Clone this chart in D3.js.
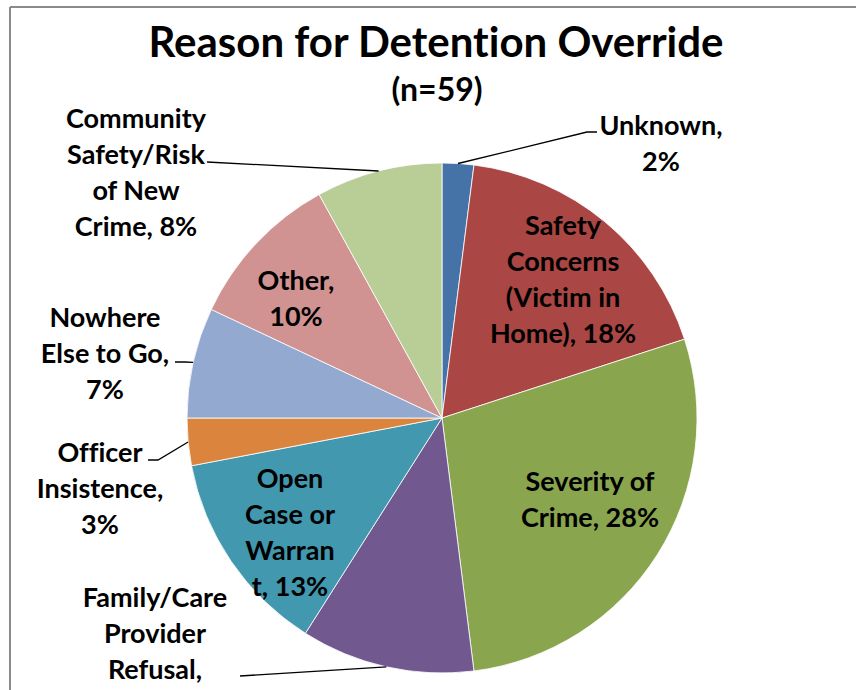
<!DOCTYPE html>
<html>
<head>
<meta charset="utf-8">
<script src="https://cdn.jsdelivr.net/npm/d3@7"></script>
<style>
  html, body { margin: 0; padding: 0; background: #fff; overflow: hidden; }
  svg { display: block; }
  text {
    font-family: "Lato", "Open Sans", sans-serif;
    font-weight: 700;
    fill: #000;
    font-variant-ligatures: none;
    font-feature-settings: "liga" 0, "clig" 0;
  }
</style>
</head>
<body>
<svg id="chart" width="856" height="690"></svg>
<script>
// Reasons for a detention override, share of cases (n=59)
const categories = [
  "Unknown",
  "Safety Concerns (Victim in Home)",
  "Severity of Crime",
  "Family/Care Provider Refusal",
  "Open Case or Warrant",
  "Officer Insistence",
  "Nowhere Else to Go",
  "Other",
  "Community Safety/Risk of New Crime"
];
const percents = [2, 18, 28, 11, 13, 3, 7, 10, 8];
const colors = ["#4572A7", "#AA4643", "#89A54E", "#71588F", "#4198AF",
                "#DB843D", "#93A9CF", "#D19392", "#B9CD96"];
// Wrapped label lines; {p} is replaced by the slice's percentage
const labelLines = [
  ["Unknown,", "{p}"],
  ["Safety", "Concerns", "(Victim in", "Home), {p}"],
  ["Severity of", "Crime, {p}"],
  ["Family/Care", "Provider", "Refusal,", "{p}"],
  ["Open", "Case or", "Warran", "t, {p}"],
  ["Officer", "Insistence,", "{p}"],
  ["Nowhere", "Else to Go,", "{p}"],
  ["Other,", "{p}"],
  ["Community", "Safety/Risk", "of New", "Crime, {p}"]
];
const title = "Reason for Detention Override";
const subtitle = "(n=59)";

// Layout
const W = 856, H = 690;
const cx = 442, cy = 418, R = 255;
const lineH = 36;
// Label blocks: centre of the first line; outside labels also get a
// leader line running from the slice rim through the listed elbow points.
const labelLayout = [
  { x: 661, y: 126, elbow: [[587, 132], [597, 132]] },
  { x: 563, y: 226 },
  { x: 590, y: 482 },
  { x: 155, y: 598, elbow: [[240, 676]] },
  { x: 290, y: 479 },
  { x: 100, y: 453, elbow: [[158, 460], [148, 460]] },
  { x: 105, y: 318, elbow: [[185, 362], [175, 362]] },
  { x: 296, y: 281 },
  { x: 136, y: 119, elbow: [[207, 162]] }
];

const svg = d3.select("#chart");

// Frame edges
svg.append("line").attr("x1", 10).attr("x2", W).attr("y1", 7).attr("y2", 7)
  .attr("stroke", "#8a8a8a").attr("stroke-width", 2);
svg.append("line").attr("x1", 10).attr("x2", 10).attr("y1", 7).attr("y2", H)
  .attr("stroke", "#8a8a8a").attr("stroke-width", 2);

// Titles
svg.append("text").attr("x", 436).attr("y", 57).attr("text-anchor", "middle")
  .style("font-size", "42px").text(title);
svg.append("text").attr("x", 437).attr("y", 101).attr("text-anchor", "middle")
  .style("font-size", "32px").text(subtitle);

const data = categories.map((c, i) => ({ name: c, value: percents[i], color: colors[i], i }));

const pie = d3.pie().value(d => d.value).sort(null);
const arcs = pie(data);
const arc = d3.arc().innerRadius(0).outerRadius(R);

const g = svg.append("g").attr("transform", `translate(${cx},${cy})`);

g.selectAll("path.slice").data(arcs).join("path")
  .attr("class", "slice")
  .attr("d", arc)
  .attr("fill", d => d.data.color)
  .attr("stroke", "#ffffff")
  .attr("stroke-width", 0.8);

const polar = (r, a) => [r * Math.sin(a), -r * Math.cos(a)];

arcs.forEach((a, i) => {
  const lay = labelLayout[i];
  const mid = (a.startAngle + a.endAngle) / 2;
  const lines = labelLines[i].map(s => s.replace("{p}", percents[i] + "%"));
  if (lay.elbow) {
    const edge = polar(R, mid);
    const pts = [[cx + edge[0], cy + edge[1]], ...lay.elbow];
    svg.append("path")
      .attr("d", d3.line()(pts))
      .attr("fill", "none").attr("stroke", "#000").attr("stroke-width", 1.3);
  }
  const t = svg.append("text").attr("text-anchor", "middle").style("font-size", "27px");
  lines.forEach((s, k) => {
    t.append("tspan").attr("x", lay.x).attr("y", lay.y + k * lineH)
      .attr("dy", "0.35em").text(s);
  });
});
</script>
</body>
</html>
